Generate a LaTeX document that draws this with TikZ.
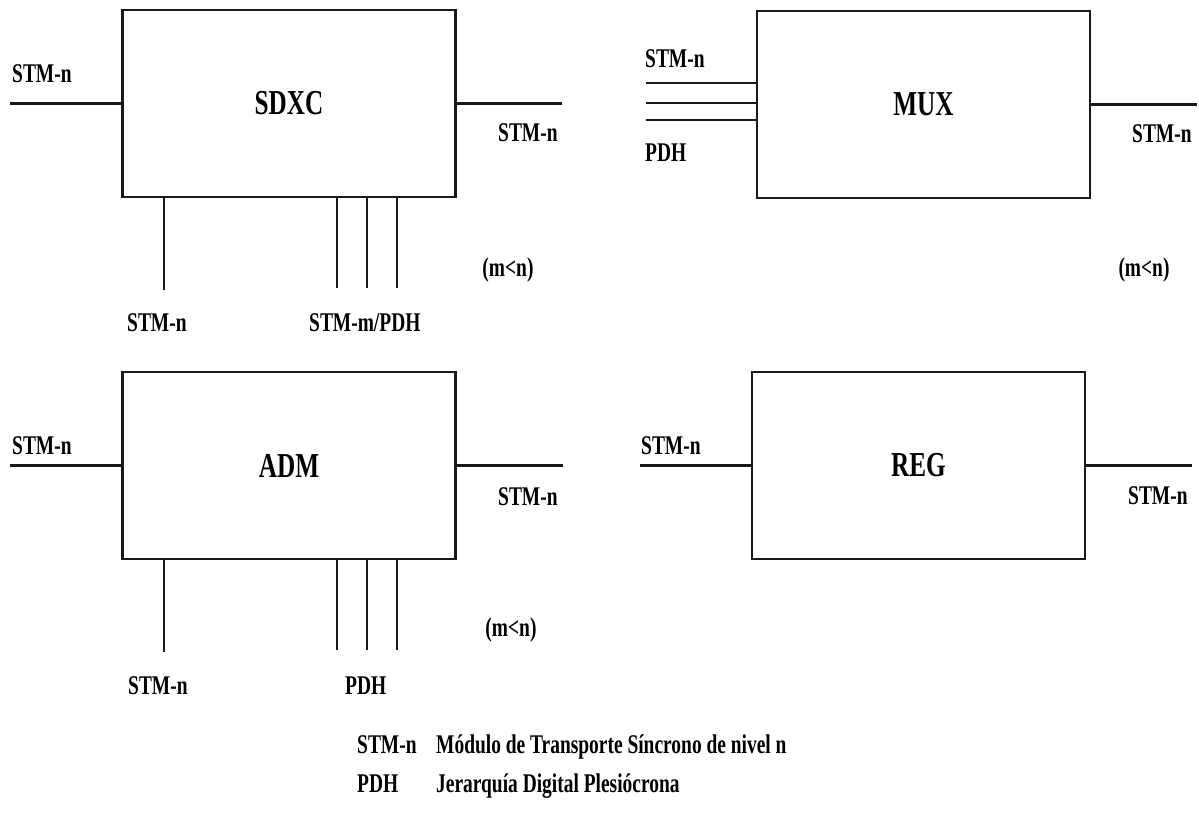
\documentclass[tikz,border=0pt]{standalone}
\usepackage{fontspec}
\setmainfont{Liberation Serif}[FakeStretch=0.72]
\newfontfamily\titlefont{Liberation Serif}[FakeStretch=0.72]
\usetikzlibrary{positioning}
\definecolor{fg}{rgb}{0.1,0.1,0.1}
\tikzstyle{equip}=[draw=fg, line width=2.8pt, minimum width=333pt, minimum height=187pt,
anchor=center, inner sep=0pt, font=\titlefont\bfseries\fontsize{35}{40}\selectfont]
\tikzstyle{lead}=[draw=fg, line width=2.4pt]
\tikzstyle{lbl}=[anchor=base west, inner sep=0pt, font=\bfseries\fontsize{27}{30}\selectfont]
\tikzstyle{cond}=[anchor=center, inner sep=0pt, font=\bfseries\fontsize{27}{30}\selectfont]

\begin{document}
\begin{tikzpicture}[x=1pt, y=-1pt]
    \useasboundingbox (0,0) rectangle (1199,814);

    % equipos
    \node[equip] (sdxc) at (289,103.5) {SDXC};
    \node[equip] (mux) at (923.5,104.5) {MUX};
    \node[equip] (adm) at (289,465.5) {ADM};
    \node[equip] (reg) at (918.5,465.5) {REG};

    % SDXC
    \coordinate (sdxcL) at (10,103.5);
    \coordinate (sdxcR) at (562,103.5);
    \coordinate (sdxcB1) at (164,290);
    \coordinate (sdxcB2) at (337,288);
    \coordinate (sdxcB3) at (367,288);
    \coordinate (sdxcB4) at (397,288);
    \draw[lead] (sdxcL) -- (sdxc.west);
    \draw[lead] (sdxc.east) -- (sdxcR);
    \draw[lead] (sdxcB1 |- sdxc.south) -- (sdxcB1);
    \draw[lead] (sdxcB2 |- sdxc.south) -- (sdxcB2);
    \draw[lead] (sdxcB3 |- sdxc.south) -- (sdxcB3);
    \draw[lead] (sdxcB4 |- sdxc.south) -- (sdxcB4);
    \node[lbl] (sdxcTL) at (12,82) {STM-n};
    \node[lbl] (sdxcTR) at (498,141) {STM-n};
    \node[lbl] (sdxcT1) at (127,331) {STM-n};
    \node[lbl] (sdxcT2) at (309,331) {STM-m/PDH};
    \node[cond] (sdxcC) at (508,270) {(m\textless n)};

    % MUX
    \coordinate (muxL1) at (646,83);
    \coordinate (muxL2) at (646,103);
    \coordinate (muxL3) at (646,120);
    \coordinate (muxR) at (1197,104.5);
    \draw[lead] (muxL1) -- (muxL1 -| mux.west);
    \draw[lead] (muxL2) -- (muxL2 -| mux.west);
    \draw[lead] (muxL3) -- (muxL3 -| mux.west);
    \draw[lead] (mux.east) -- (muxR);
    \node[lbl] (muxTL1) at (645,67) {STM-n};
    \node[lbl] (muxTL2) at (645,161) {PDH};
    \node[lbl] (muxTR) at (1132,142) {STM-n};
    \node[cond] (muxC) at (1144,270) {(m\textless n)};

    % ADM
    \coordinate (admL) at (10,465.5);
    \coordinate (admR) at (563,465.5);
    \coordinate (admB1) at (164,652);
    \coordinate (admB2) at (337,650);
    \coordinate (admB3) at (367,650);
    \coordinate (admB4) at (397,650);
    \draw[lead] (admL) -- (adm.west);
    \draw[lead] (adm.east) -- (admR);
    \draw[lead] (admB1 |- adm.south) -- (admB1);
    \draw[lead] (admB2 |- adm.south) -- (admB2);
    \draw[lead] (admB3 |- adm.south) -- (admB3);
    \draw[lead] (admB4 |- adm.south) -- (admB4);
    \node[lbl] (admTL) at (12,454) {STM-n};
    \node[lbl] (admTR) at (498,505) {STM-n};
    \node[lbl] (admT1) at (128,694) {STM-n};
    \node[lbl] (admT2) at (345,694) {PDH};
    \node[cond] (admC) at (511,630) {(m\textless n)};

    % REG
    \coordinate (regL) at (640,465.5);
    \coordinate (regR) at (1192,465.5);
    \draw[lead] (regL) -- (reg.west);
    \draw[lead] (reg.east) -- (regR);
    \node[lbl] (regTL) at (641,454) {STM-n};
    \node[lbl] (regTR) at (1128,504) {STM-n};

    % leyenda
    \node[lbl] (key1) at (357,753) {STM-n};
    \node[lbl] (def1) at (436,753) {Módulo de Transporte Síncrono de nivel n};
    \node[lbl] (key2) at (357,792) {PDH};
    \node[lbl] (def2) at (436,792) {Jerarquía Digital Plesiócrona};

\end{tikzpicture}
\end{document}
